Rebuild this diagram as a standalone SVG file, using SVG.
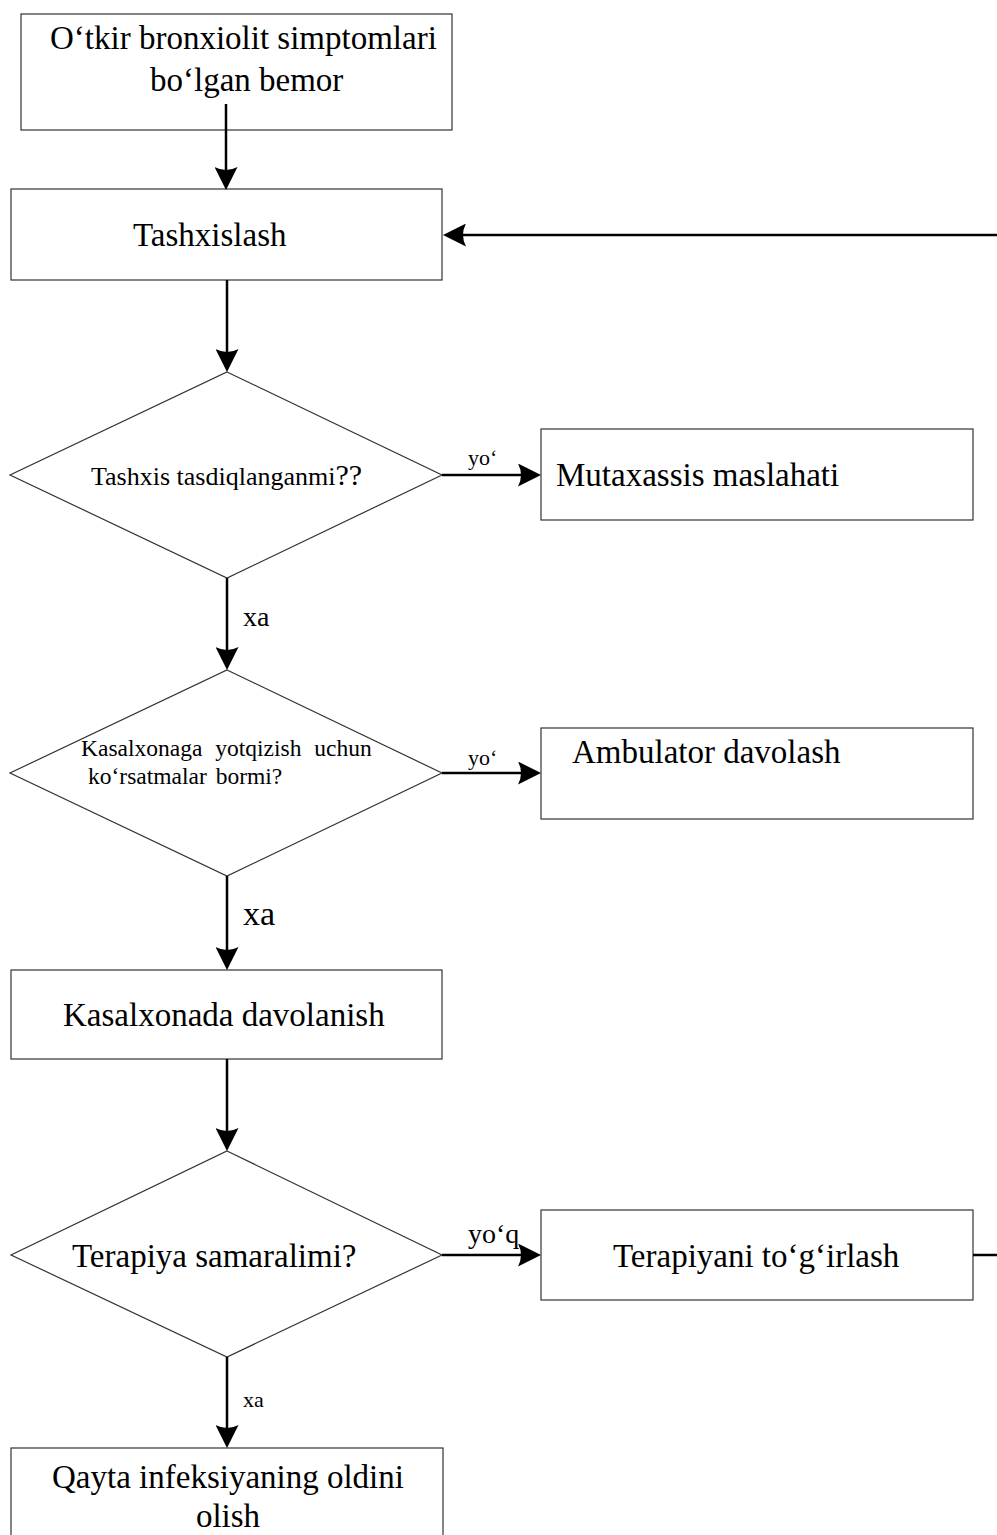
<svg xmlns="http://www.w3.org/2000/svg" width="997" height="1535" viewBox="0 0 997 1535">
<style>
.box{fill:#fff;stroke:#333;stroke-width:1.2}
.t{font-family:"Liberation Serif","Times New Roman",serif;fill:#000}
.big{font-size:33px}
.conn{fill:none;stroke:#000;stroke-width:2.5}
</style>
<defs>
<marker id="ah" markerUnits="userSpaceOnUse" viewBox="0 0 23 23" markerWidth="23" markerHeight="23" refX="13" refY="11.5" orient="auto">
<path d="M0,0 L23,11.5 L0,23 Q6,11.5 0,0 Z" fill="#000"/>
</marker>
</defs>
<rect width="997" height="1535" fill="#fff"/>

<g id="n-start">
<rect class="box" x="21" y="14" width="431" height="116"/>
<text class="t big" x="50" y="49">O‘tkir bronxiolit simptomlari</text>
<text class="t big" x="150" y="91">bo‘lgan bemor</text>
</g>

<g id="n-tashxislash">
<rect class="box" x="11" y="189" width="431" height="91"/>
<text class="t big" x="133" y="246">Tashxislash</text>
</g>

<g id="n-dec1">
<polygon class="box" points="227,372 442,475 227,578 10,475"/>
<text class="t" x="91" y="485" font-size="26">Tashxis tasdiqlanganmi<tspan font-size="30">??</tspan></text>
</g>

<g id="n-mutaxassis">
<rect class="box" x="541" y="429" width="432" height="91"/>
<text class="t big" x="556" y="486">Mutaxassis maslahati</text>
</g>

<g id="n-dec2">
<polygon class="box" points="227,670 442,773 227,876 10,773"/>
<text class="t" x="81" y="756" font-size="23.5" word-spacing="7">Kasalxonaga yotqizish uchun</text>
<text class="t" x="88" y="784" font-size="23.5" word-spacing="3">ko‘rsatmalar bormi?</text>
</g>

<g id="n-ambulator">
<rect class="box" x="541" y="728" width="432" height="91"/>
<text class="t big" x="572" y="763">Ambulator davolash</text>
</g>

<g id="n-kasalxonada">
<rect class="box" x="11" y="970" width="431" height="89"/>
<text class="t big" x="63" y="1026">Kasalxonada davolanish</text>
</g>

<g id="n-dec3">
<polygon class="box" points="227,1151 442,1255 227,1357 11,1255"/>
<text class="t big" x="72" y="1267">Terapiya samaralimi?</text>
</g>

<g id="n-terapiyani">
<rect class="box" x="541" y="1210" width="432" height="90"/>
<text class="t big" x="613" y="1267">Terapiyani to‘g‘irlash</text>
</g>

<g id="n-qayta">
<rect class="box" x="11" y="1448" width="432" height="100"/>
<text class="t big" x="228" y="1488" text-anchor="middle">Qayta infeksiyaning oldini</text>
<text class="t big" x="228" y="1527" text-anchor="middle">olish</text>
</g>

<g id="connectors">
<path class="conn" d="M226,104 V180" marker-end="url(#ah)"/>
<path class="conn" d="M997,235 H453" marker-end="url(#ah)"/>
<path class="conn" d="M227,280 V362" marker-end="url(#ah)"/>
<path class="conn" d="M442,475 H531" marker-end="url(#ah)"/>
<path class="conn" d="M227,578 V660" marker-end="url(#ah)"/>
<path class="conn" d="M442,773 H531" marker-end="url(#ah)"/>
<path class="conn" d="M227,876 V960" marker-end="url(#ah)"/>
<path class="conn" d="M227,1059 V1141" marker-end="url(#ah)"/>
<path class="conn" d="M442,1255 H531" marker-end="url(#ah)"/>
<path class="conn" d="M973,1255 H997"/>
<path class="conn" d="M227,1357 V1438" marker-end="url(#ah)"/>
<text class="t" x="468" y="465" font-size="22">yo‘</text>
<text class="t" x="243" y="626" font-size="28">xa</text>
<text class="t" x="468" y="765" font-size="22">yo‘</text>
<text class="t" x="243" y="925" font-size="34">xa</text>
<text class="t" x="468" y="1243" font-size="28">yo‘q</text>
<text class="t" x="243" y="1407" font-size="22">xa</text>
</g>
</svg>
